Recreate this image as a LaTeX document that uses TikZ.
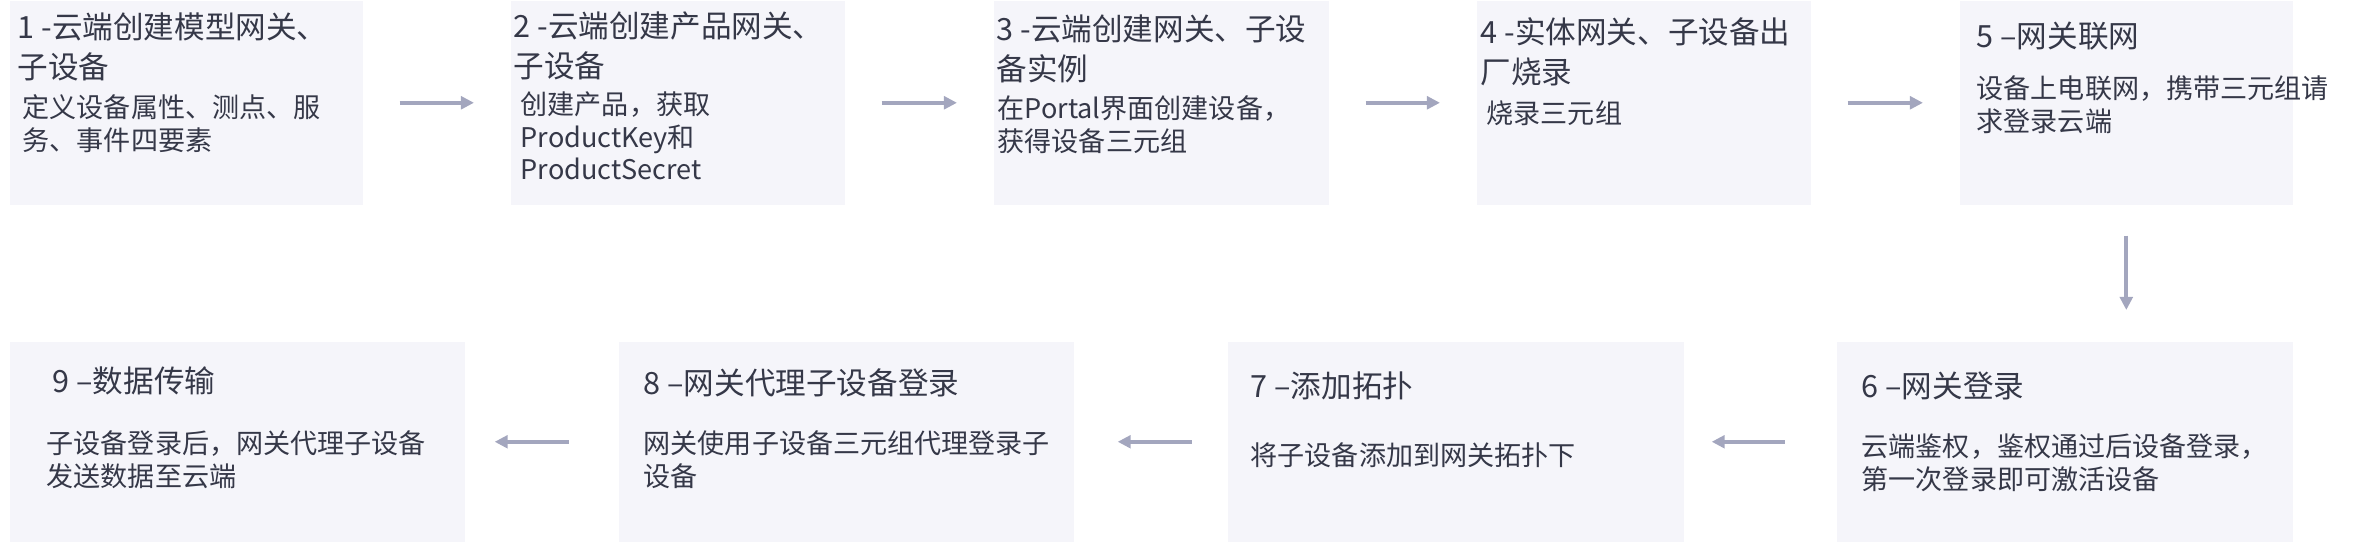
\documentclass[tikz,border=0pt]{standalone}
\usepackage{fontspec}
\setmainfont{Noto Sans CJK SC}
\usepackage{xcolor}
\usetikzlibrary{arrows.meta}
\definecolor{boxbg}{HTML}{F5F5FA}
\definecolor{txtc}{HTML}{353848}
\definecolor{arrowc}{HTML}{A3A6BE}

\begin{document}
\begin{tikzpicture}[
    x=0.01cm, y=-0.01cm,
    box/.style={rectangle, fill=boxbg, inner sep=0pt, anchor=north west, minimum width=3.34cm, minimum height=2.04cm},
    wide/.style={box, minimum width=4.56cm, minimum height=2cm},
    heading/.style={anchor=north west, inner sep=0pt, align=left, text=txtc, font=\fontsize{8.7pt}{11.4pt}\selectfont, execute at begin node={\rule{0pt}{1em}}},
    desc/.style={heading, font=\fontsize{7.7pt}{9.25pt}\selectfont},
    arrow/.style={-{Triangle[length=3.7pt, width=3.6pt]}, line width=1.1pt, draw=arrowc, shorten <=0.36cm, shorten >=0.36cm}
]
    \useasboundingbox (0,0) rectangle (2354,541);

    % Boxes
    \node[box, minimum width=3.53cm] (b1) at (9,0) {};
    \node[box] (b2) at (510,0) {};
    \node[box, minimum width=3.35cm] (b3) at (993,0) {};
    \node[box] (b4) at (1476,0) {};
    \node[box, minimum width=3.33cm] (b5) at (1959,0) {};
    \node[wide, minimum width=4.55cm] (b9) at (9,341) {};
    \node[wide, minimum width=4.55cm] (b8) at (618,341) {};
    \node[wide] (b7) at (1227,341) {};
    \node[wide] (b6) at (1836,341) {};

    % Texts
    \node[heading] (t1) at (17,12) {1 -云端创建模型网关、\\子设备};
    \node[desc] (d1) at (22,94) {定义设备属性、测点、服\\务、事件四要素};
    \node[heading] (t2) at (513,11) {2 -云端创建产品网关、\\子设备};
    \node[desc] (d2) at (520,91) {创建产品，获取\\ProductKey和\\ProductSecret};
    \node[heading] (t3) at (996,14) {3 -云端创建网关、子设\\备实例};
    \node[desc] (d3) at (997,95) {在Portal界面创建设备，\\获得设备三元组};
    \node[heading] (t4) at (1480,17) {4 -实体网关、子设备出\\厂烧录};
    \node[desc] (d4) at (1486,96) {烧录三元组};
    \node[heading] (t5) at (1976,16) {5 –网关联网};
    \node[desc] (d5) at (1976,75) {设备上电联网，携带三元组请\\求登录云端};
    \node[heading] (t6) at (1861,366) {6 –网关登录};
    \node[desc] (d6) at (1861,433) {云端鉴权，鉴权通过后设备登录，\\第一次登录即可激活设备};
    \node[heading] (t7) at (1250,366) {7 –添加拓扑};
    \node[desc] (d7) at (1250,438) {将子设备添加到网关拓扑下};
    \node[heading] (t8) at (643,363) {8 –网关代理子设备登录};
    \node[desc] (d8) at (643,430) {网关使用子设备三元组代理登录子\\设备};
    \node[heading] (t9) at (52,361) {9 –数据传输};
    \node[desc] (d9) at (46,430) {子设备登录后，网关代理子设备\\发送数据至云端};

    % Arrows
    \draw[arrow] (b1) -- (b2);
    \draw[arrow] (b2) -- (b3);
    \draw[arrow] (b3) -- (b4);
    \draw[arrow] (b4) -- (b5);
    \draw[arrow, shorten <=0.30cm, shorten >=0.31cm] (b5.south) -- (b5.south |- b6.north);
    \draw[arrow, shorten <=0.51cm, shorten >=0.27cm] (b6) -- (b7);
    \draw[arrow, shorten <=0.35cm, shorten >=0.43cm] (b7) -- (b8);
    \draw[arrow, shorten <=0.49cm, shorten >=0.29cm] (b8) -- (b9);
\end{tikzpicture}
\end{document}
